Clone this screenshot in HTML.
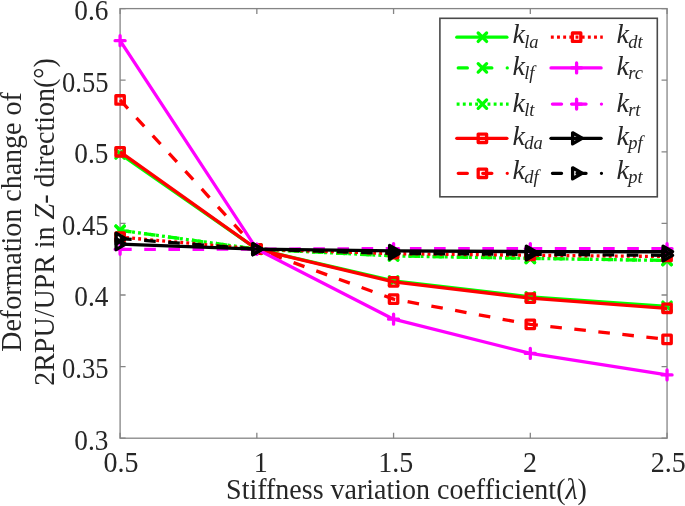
<!DOCTYPE html>
<html><head><meta charset="utf-8"><style>
html,body{margin:0;padding:0;background:#fff;}
svg{display:block;will-change:transform;font-family:"Liberation Serif",serif;}
</style></head><body>
<svg width="685" height="506" viewBox="0 0 685 506">
<g>
<rect width="685" height="506" fill="#fff"/>
<rect x="120.1" y="8.6" width="546.95" height="429.60" fill="none" stroke="#858585" stroke-width="1.3"/>
<path d="M120.10,438.2v-5.5M120.10,8.6v5.5M256.84,438.2v-5.5M256.84,8.6v5.5M393.57,438.2v-5.5M393.57,8.6v5.5M530.31,438.2v-5.5M530.31,8.6v5.5M667.05,438.2v-5.5M667.05,8.6v5.5M120.1,438.20h5.5M667.05,438.20h-5.5M120.1,366.60h5.5M667.05,366.60h-5.5M120.1,295.00h5.5M667.05,295.00h-5.5M120.1,223.40h5.5M667.05,223.40h-5.5M120.1,151.80h5.5M667.05,151.80h-5.5M120.1,80.20h5.5M667.05,80.20h-5.5M120.1,8.60h5.5M667.05,8.60h-5.5" stroke="#858585" stroke-width="1.3" fill="none"/>
<polyline points="120.10,153.95 256.84,249.18 393.57,280.97 530.31,296.86 667.05,306.31" fill="none" stroke="#00ff00" stroke-width="3.3" stroke-linejoin="round"/>
<path d="M115.90,149.75L124.30,158.15M115.90,158.15L124.30,149.75" stroke="#00ff00" stroke-width="3.3" fill="none" stroke-linecap="round"/>
<path d="M252.64,244.98L261.04,253.38M252.64,253.38L261.04,244.98" stroke="#00ff00" stroke-width="3.3" fill="none" stroke-linecap="round"/>
<path d="M389.37,276.77L397.77,285.17M389.37,285.17L397.77,276.77" stroke="#00ff00" stroke-width="3.3" fill="none" stroke-linecap="round"/>
<path d="M526.11,292.66L534.51,301.06M526.11,301.06L534.51,292.66" stroke="#00ff00" stroke-width="3.3" fill="none" stroke-linecap="round"/>
<path d="M662.85,302.11L671.25,310.51M662.85,310.51L671.25,302.11" stroke="#00ff00" stroke-width="3.3" fill="none" stroke-linecap="round"/>
<polyline points="120.10,230.27 256.84,249.18 393.57,255.91 530.31,258.34 667.05,260.49" fill="none" stroke="#00ff00" stroke-width="3.3" stroke-dasharray="11.6 12.55" stroke-linejoin="round"/>
<path d="M115.90,226.07L124.30,234.47M115.90,234.47L124.30,226.07" stroke="#00ff00" stroke-width="3.3" fill="none" stroke-linecap="round"/>
<path d="M252.64,244.98L261.04,253.38M252.64,253.38L261.04,244.98" stroke="#00ff00" stroke-width="3.3" fill="none" stroke-linecap="round"/>
<path d="M389.37,251.71L397.77,260.11M389.37,260.11L397.77,251.71" stroke="#00ff00" stroke-width="3.3" fill="none" stroke-linecap="round"/>
<path d="M526.11,254.14L534.51,262.54M526.11,262.54L534.51,254.14" stroke="#00ff00" stroke-width="3.3" fill="none" stroke-linecap="round"/>
<path d="M662.85,256.29L671.25,264.69M662.85,264.69L671.25,256.29" stroke="#00ff00" stroke-width="3.3" fill="none" stroke-linecap="round"/>
<polyline points="120.10,230.27 256.84,249.18 393.57,255.91 530.31,258.34 667.05,260.49" fill="none" stroke="#00ff00" stroke-width="3.3" stroke-dasharray="2.9 3.14" stroke-linejoin="round"/>
<path d="M115.90,226.07L124.30,234.47M115.90,234.47L124.30,226.07" stroke="#00ff00" stroke-width="3.3" fill="none" stroke-linecap="round"/>
<path d="M252.64,244.98L261.04,253.38M252.64,253.38L261.04,244.98" stroke="#00ff00" stroke-width="3.3" fill="none" stroke-linecap="round"/>
<path d="M389.37,251.71L397.77,260.11M389.37,260.11L397.77,251.71" stroke="#00ff00" stroke-width="3.3" fill="none" stroke-linecap="round"/>
<path d="M526.11,254.14L534.51,262.54M526.11,262.54L534.51,254.14" stroke="#00ff00" stroke-width="3.3" fill="none" stroke-linecap="round"/>
<path d="M662.85,256.29L671.25,264.69M662.85,264.69L671.25,256.29" stroke="#00ff00" stroke-width="3.3" fill="none" stroke-linecap="round"/>
<polyline points="120.10,151.80 256.84,249.18 393.57,281.83 530.31,298.15 667.05,308.32" fill="none" stroke="#ff0000" stroke-width="3.3" stroke-linejoin="round"/>
<rect x="115.90" y="147.60" width="8.40" height="8.40" stroke="#ff0000" stroke-width="3.3" fill="none" stroke-linejoin="round"/>
<rect x="252.64" y="244.98" width="8.40" height="8.40" stroke="#ff0000" stroke-width="3.3" fill="none" stroke-linejoin="round"/>
<rect x="389.37" y="277.63" width="8.40" height="8.40" stroke="#ff0000" stroke-width="3.3" fill="none" stroke-linejoin="round"/>
<rect x="526.11" y="293.95" width="8.40" height="8.40" stroke="#ff0000" stroke-width="3.3" fill="none" stroke-linejoin="round"/>
<rect x="662.85" y="304.12" width="8.40" height="8.40" stroke="#ff0000" stroke-width="3.3" fill="none" stroke-linejoin="round"/>
<polyline points="120.10,99.96 256.84,249.18 393.57,299.15 530.31,324.36 667.05,339.39" fill="none" stroke="#ff0000" stroke-width="3.3" stroke-dasharray="11.6 12.55" stroke-linejoin="round"/>
<rect x="115.90" y="95.76" width="8.40" height="8.40" stroke="#ff0000" stroke-width="3.3" fill="none" stroke-linejoin="round"/>
<rect x="252.64" y="244.98" width="8.40" height="8.40" stroke="#ff0000" stroke-width="3.3" fill="none" stroke-linejoin="round"/>
<rect x="389.37" y="294.95" width="8.40" height="8.40" stroke="#ff0000" stroke-width="3.3" fill="none" stroke-linejoin="round"/>
<rect x="526.11" y="320.16" width="8.40" height="8.40" stroke="#ff0000" stroke-width="3.3" fill="none" stroke-linejoin="round"/>
<rect x="662.85" y="335.19" width="8.40" height="8.40" stroke="#ff0000" stroke-width="3.3" fill="none" stroke-linejoin="round"/>
<polyline points="120.10,237.15 256.84,249.18 393.57,253.62 530.31,255.33 667.05,256.48" fill="none" stroke="#ff0000" stroke-width="3.3" stroke-dasharray="2.9 3.14" stroke-linejoin="round"/>
<rect x="115.90" y="232.95" width="8.40" height="8.40" stroke="#ff0000" stroke-width="3.3" fill="none" stroke-linejoin="round"/>
<rect x="252.64" y="244.98" width="8.40" height="8.40" stroke="#ff0000" stroke-width="3.3" fill="none" stroke-linejoin="round"/>
<rect x="389.37" y="249.42" width="8.40" height="8.40" stroke="#ff0000" stroke-width="3.3" fill="none" stroke-linejoin="round"/>
<rect x="526.11" y="251.13" width="8.40" height="8.40" stroke="#ff0000" stroke-width="3.3" fill="none" stroke-linejoin="round"/>
<rect x="662.85" y="252.28" width="8.40" height="8.40" stroke="#ff0000" stroke-width="3.3" fill="none" stroke-linejoin="round"/>
<polyline points="120.10,40.68 256.84,249.18 393.57,319.20 530.31,353.43 667.05,374.91" fill="none" stroke="#ff00ff" stroke-width="3.3" stroke-linejoin="round"/>
<path d="M115.10,40.68L125.10,40.68M120.10,35.68L120.10,45.68" stroke="#ff00ff" stroke-width="3.3" fill="none" stroke-linecap="round"/>
<path d="M251.84,249.18L261.84,249.18M256.84,244.18L256.84,254.18" stroke="#ff00ff" stroke-width="3.3" fill="none" stroke-linecap="round"/>
<path d="M388.57,319.20L398.57,319.20M393.57,314.20L393.57,324.20" stroke="#ff00ff" stroke-width="3.3" fill="none" stroke-linecap="round"/>
<path d="M525.31,353.43L535.31,353.43M530.31,348.43L530.31,358.43" stroke="#ff00ff" stroke-width="3.3" fill="none" stroke-linecap="round"/>
<path d="M662.05,374.91L672.05,374.91M667.05,369.91L667.05,379.91" stroke="#ff00ff" stroke-width="3.3" fill="none" stroke-linecap="round"/>
<polyline points="120.10,249.32 256.84,249.18 393.57,248.60 530.31,248.60 667.05,248.75" fill="none" stroke="#ff00ff" stroke-width="3.3" stroke-dasharray="11.6 12.55" stroke-linejoin="round"/>
<path d="M115.10,249.32L125.10,249.32M120.10,244.32L120.10,254.32" stroke="#ff00ff" stroke-width="3.3" fill="none" stroke-linecap="round"/>
<path d="M251.84,249.18L261.84,249.18M256.84,244.18L256.84,254.18" stroke="#ff00ff" stroke-width="3.3" fill="none" stroke-linecap="round"/>
<path d="M388.57,248.60L398.57,248.60M393.57,243.60L393.57,253.60" stroke="#ff00ff" stroke-width="3.3" fill="none" stroke-linecap="round"/>
<path d="M525.31,248.60L535.31,248.60M530.31,243.60L530.31,253.60" stroke="#ff00ff" stroke-width="3.3" fill="none" stroke-linecap="round"/>
<path d="M662.05,248.75L672.05,248.75M667.05,243.75L667.05,253.75" stroke="#ff00ff" stroke-width="3.3" fill="none" stroke-linecap="round"/>
<polyline points="120.10,244.16 256.84,249.18 393.57,250.89 530.31,251.61 667.05,251.75" fill="none" stroke="#000000" stroke-width="3.3" stroke-linejoin="round"/>
<path d="M116.10,238.66L125.60,244.16L116.10,249.66Z" stroke="#000000" stroke-width="3.3" fill="none" stroke-linejoin="round"/>
<path d="M252.84,243.68L262.34,249.18L252.84,254.68Z" stroke="#000000" stroke-width="3.3" fill="none" stroke-linejoin="round"/>
<path d="M389.57,245.39L399.07,250.89L389.57,256.39Z" stroke="#000000" stroke-width="3.3" fill="none" stroke-linejoin="round"/>
<path d="M526.31,246.11L535.81,251.61L526.31,257.11Z" stroke="#000000" stroke-width="3.3" fill="none" stroke-linejoin="round"/>
<path d="M663.05,246.25L672.55,251.75L663.05,257.25Z" stroke="#000000" stroke-width="3.3" fill="none" stroke-linejoin="round"/>
<polyline points="120.10,238.58 256.84,249.18 393.57,253.47 530.31,254.33 667.05,255.33" fill="none" stroke="#000000" stroke-width="3.3" stroke-dasharray="11.6 12.55" stroke-linejoin="round"/>
<path d="M116.10,233.08L125.60,238.58L116.10,244.08Z" stroke="#000000" stroke-width="3.3" fill="none" stroke-linejoin="round"/>
<path d="M252.84,243.68L262.34,249.18L252.84,254.68Z" stroke="#000000" stroke-width="3.3" fill="none" stroke-linejoin="round"/>
<path d="M389.57,247.97L399.07,253.47L389.57,258.97Z" stroke="#000000" stroke-width="3.3" fill="none" stroke-linejoin="round"/>
<path d="M526.31,248.83L535.81,254.33L526.31,259.83Z" stroke="#000000" stroke-width="3.3" fill="none" stroke-linejoin="round"/>
<path d="M663.05,249.83L672.55,255.33L663.05,260.83Z" stroke="#000000" stroke-width="3.3" fill="none" stroke-linejoin="round"/>
<g font-size="28" fill="#262626"><text transform="translate(108.5,449.50) scale(0.975,1.07)" text-anchor="end">0.3</text><text transform="translate(108.5,377.90) scale(0.95,1.07)" text-anchor="end">0.35</text><text transform="translate(108.5,306.30) scale(0.975,1.07)" text-anchor="end">0.4</text><text transform="translate(108.5,234.70) scale(0.95,1.07)" text-anchor="end">0.45</text><text transform="translate(108.5,163.10) scale(0.975,1.07)" text-anchor="end">0.5</text><text transform="translate(108.5,91.50) scale(0.95,1.07)" text-anchor="end">0.55</text><text transform="translate(108.5,19.90) scale(0.975,1.07)" text-anchor="end">0.6</text><text transform="translate(121.10,471.8) scale(1,1.07)" text-anchor="middle">0.5</text><text transform="translate(260.64,471.8) scale(1,1.07)" text-anchor="middle">1</text><text transform="translate(395.67,471.8) scale(1,1.07)" text-anchor="middle">1.5</text><text transform="translate(530.11,471.8) scale(1,1.07)" text-anchor="middle">2</text><text transform="translate(668.35,471.8) scale(1,1.07)" text-anchor="middle">2.5</text></g>
<text transform="translate(406.5,499) scale(1,1.07)" font-size="28" text-anchor="middle" fill="#262626">Stiffness variation coefficient(<tspan font-style="italic">&#955;</tspan>)</text>
<g transform="translate(21.3,222) rotate(-90) scale(1,1.07)"><text x="0" y="0" font-size="28" text-anchor="middle" fill="#262626">Deformation change of</text></g>
<g transform="translate(54.3,222) rotate(-90) scale(1,1.07)"><text x="0" y="0" font-size="28" text-anchor="middle" fill="#262626">2RPU/UPR in <tspan font-style="italic">Z</tspan>- direction(&#176;)</text></g>
<rect x="439.9" y="18.3" width="217.40" height="178.50" fill="#fff" stroke="#4a4a4a" stroke-width="1.6"/>
<path d="M456.80,37.2H506.90" stroke="#00ff00" stroke-width="3.3" fill="none" stroke-linecap="round"/>
<path d="M478.20,33.00L486.60,41.40M478.20,41.40L486.60,33.00" stroke="#00ff00" stroke-width="3.3" fill="none" stroke-linecap="round"/>
<text transform="translate(512.5,43.40)" font-size="28" font-style="italic" fill="#262626">k<tspan font-size="18.5" dx="-0.7" dy="4.3">la</tspan></text>
<path d="M458.25,67.9H467.35M482.75,67.9H491.85M507.25,67.9h0.01" stroke="#00ff00" stroke-width="3.3" fill="none" stroke-linecap="round"/>
<path d="M478.20,63.70L486.60,72.10M478.20,72.10L486.60,63.70" stroke="#00ff00" stroke-width="3.3" fill="none" stroke-linecap="round"/>
<text transform="translate(512.5,75.10)" font-size="28" font-style="italic" fill="#262626">k<tspan font-size="18.5" dx="-0.7" dy="4.3">lf</tspan></text>
<path d="M456.65,104.1H508.60" stroke="#00ff00" stroke-width="3.3" fill="none" stroke-dasharray="2.9 3.27"/>
<path d="M478.20,99.90L486.60,108.30M478.20,108.30L486.60,99.90" stroke="#00ff00" stroke-width="3.3" fill="none" stroke-linecap="round"/>
<text transform="translate(512.5,112.00)" font-size="28" font-style="italic" fill="#262626">k<tspan font-size="18.5" dx="-0.7" dy="4.3">lt</tspan></text>
<path d="M456.80,138.3H506.90" stroke="#ff0000" stroke-width="3.3" fill="none" stroke-linecap="round"/>
<rect x="478.20" y="134.10" width="8.40" height="8.40" stroke="#ff0000" stroke-width="3.3" fill="none" stroke-linejoin="round"/>
<text transform="translate(512.5,145.00)" font-size="28" font-style="italic" fill="#262626">k<tspan font-size="18.5" dx="-0.7" dy="4.3">da</tspan></text>
<path d="M458.25,173.3H467.35M482.75,173.3H491.85M507.25,173.3h0.01" stroke="#ff0000" stroke-width="3.3" fill="none" stroke-linecap="round"/>
<rect x="478.20" y="169.10" width="8.40" height="8.40" stroke="#ff0000" stroke-width="3.3" fill="none" stroke-linejoin="round"/>
<text transform="translate(512.5,178.90)" font-size="28" font-style="italic" fill="#262626">k<tspan font-size="18.5" dx="-0.7" dy="4.3">df</tspan></text>
<path d="M550.85,37.2H602.80" stroke="#ff0000" stroke-width="3.3" fill="none" stroke-dasharray="2.9 3.27"/>
<rect x="572.40" y="33.00" width="8.40" height="8.40" stroke="#ff0000" stroke-width="3.3" fill="none" stroke-linejoin="round"/>
<text transform="translate(616.4,43.40)" font-size="28" font-style="italic" fill="#262626">k<tspan font-size="18.5" dx="-0.7" dy="4.3">dt</tspan></text>
<path d="M551.00,67.9H601.10" stroke="#ff00ff" stroke-width="3.3" fill="none" stroke-linecap="round"/>
<path d="M571.60,67.90L581.60,67.90M576.60,62.90L576.60,72.90" stroke="#ff00ff" stroke-width="3.3" fill="none" stroke-linecap="round"/>
<text transform="translate(616.4,75.10)" font-size="28" font-style="italic" fill="#262626">k<tspan font-size="18.5" dx="-0.7" dy="4.3">rc</tspan></text>
<path d="M552.45,104.1H561.55M576.95,104.1H586.05M601.45,104.1h0.01" stroke="#ff00ff" stroke-width="3.3" fill="none" stroke-linecap="round"/>
<path d="M571.60,104.10L581.60,104.10M576.60,99.10L576.60,109.10" stroke="#ff00ff" stroke-width="3.3" fill="none" stroke-linecap="round"/>
<text transform="translate(616.4,112.00)" font-size="28" font-style="italic" fill="#262626">k<tspan font-size="18.5" dx="-0.7" dy="4.3">rt</tspan></text>
<path d="M551.00,138.3H601.10" stroke="#000000" stroke-width="3.3" fill="none" stroke-linecap="round"/>
<path d="M572.60,132.80L582.10,138.30L572.60,143.80Z" stroke="#000000" stroke-width="3.3" fill="none" stroke-linejoin="round"/>
<text transform="translate(616.4,145.00)" font-size="28" font-style="italic" fill="#262626">k<tspan font-size="18.5" dx="-0.7" dy="4.3">pf</tspan></text>
<path d="M552.45,173.3H561.55M576.95,173.3H586.05M601.45,173.3h0.01" stroke="#000000" stroke-width="3.3" fill="none" stroke-linecap="round"/>
<path d="M572.60,167.80L582.10,173.30L572.60,178.80Z" stroke="#000000" stroke-width="3.3" fill="none" stroke-linejoin="round"/>
<text transform="translate(616.4,178.90)" font-size="28" font-style="italic" fill="#262626">k<tspan font-size="18.5" dx="-0.7" dy="4.3">pt</tspan></text>
</g>
</svg></body></html>
